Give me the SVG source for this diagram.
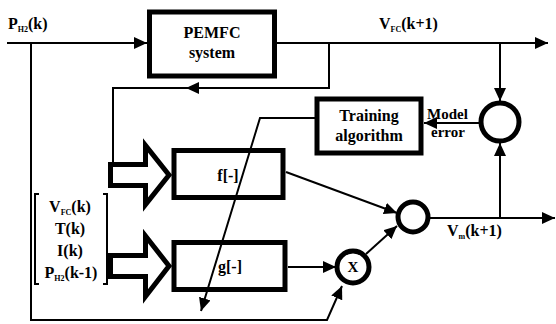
<svg xmlns="http://www.w3.org/2000/svg" width="556" height="324" viewBox="0 0 556 324" font-family="'Liberation Serif', 'Times New Roman', serif" font-weight="bold" font-size="16">
  <style>
    text { fill: #000; }
    .sub { font-size: 8px; }
    .box { fill: #fff; stroke: #000; stroke-width: 5; }
    .ln { fill: none; stroke: #000; stroke-width: 2; }
    .ring { fill: #fff; stroke: #000; stroke-width: 5; }
    .fat { fill: #fff; stroke: #000; stroke-width: 5; stroke-linejoin: miter; }
  </style>
  <defs>
    <marker id="ah" markerUnits="userSpaceOnUse" markerWidth="14" markerHeight="12" refX="13" refY="6" orient="auto">
      <path d="M0,0 L13,6 L0,12 Z" fill="#000"/>
    </marker>
  </defs>
  <rect width="556" height="324" fill="#fff"/>

  <g id="pemfc">
    <rect class="box" x="149.5" y="12" width="125" height="64"/>
    <text x="212" y="38" text-anchor="middle">PEMFC</text>
    <text x="212" y="58" text-anchor="middle">system</text>
  </g>

  <g id="training">
    <rect class="box" x="317" y="99" width="104" height="54" stroke-width="4"/>
    <text x="369" y="121" text-anchor="middle">Training</text>
    <text x="369" y="141" text-anchor="middle">algorithm</text>
  </g>

  <g id="f-net">
    <rect class="box" x="174" y="150.5" width="109" height="47"/>
    <text x="228" y="181" text-anchor="middle">f[-]</text>
  </g>

  <g id="g-net">
    <rect class="box" x="174" y="242.5" width="111" height="47"/>
    <text x="230" y="272" text-anchor="middle">g[-]</text>
  </g>

  <g id="error-node">
    <circle class="ring" cx="500" cy="122" r="19"/>
  </g>

  <g id="sum-node">
    <circle class="ring" cx="413" cy="217" r="15"/>
  </g>

  <g id="mult-node">
    <circle class="ring" cx="353" cy="267" r="16" stroke-width="4"/>
    <text x="353" y="272" text-anchor="middle" font-size="15">X</text>
  </g>

  <g id="regressor">
    <path class="ln" d="M39,194 H35 V284 H39"/>
    <path class="ln" d="M103,194 H107 V284 H103"/>
    <text x="70" y="212" text-anchor="middle">V<tspan class="sub" dy="3">FC</tspan><tspan dy="-3">(k)</tspan></text>
    <text x="70" y="234" text-anchor="middle">T(k)</text>
    <text x="70" y="256" text-anchor="middle">I(k)</text>
    <text x="71" y="278" text-anchor="middle">P<tspan class="sub" dy="3">H2</tspan><tspan dy="-3">(k-1)</tspan></text>
  </g>

  <g id="labels">
    <text x="8" y="29">P<tspan class="sub" dy="3">H2</tspan><tspan dy="-3">(k)</tspan></text>
    <text x="379" y="29">V<tspan class="sub" dy="3">FC</tspan><tspan dy="-3">(k+1)</tspan></text>
    <text x="427" y="119" font-size="15">Model</text>
    <text x="431" y="137" font-size="15">error</text>
    <text x="447" y="236">V<tspan class="sub" dy="3">m</tspan><tspan dy="-3">(k+1)</tspan></text>
  </g>

  <g id="connectors">
    <!-- H2 pressure input -->
    <line class="ln" x1="7" y1="43" x2="147" y2="43" marker-end="url(#ah)"/>
    <polyline class="ln" points="31,43 31,320 327,320 342,286" marker-end="url(#ah)"/>
    <!-- stack voltage output -->
    <line class="ln" x1="277" y1="43" x2="548" y2="43" marker-end="url(#ah)"/>
    <!-- measured voltage fed back to regressor -->
    <polyline class="ln" points="329,43 329,88 113,88 113,164"/>
    <line class="ln" x1="329" y1="88" x2="186" y2="88" marker-end="url(#ah)"/>
    <!-- to error node -->
    <line class="ln" x1="500" y1="43" x2="500" y2="101" marker-end="url(#ah)"/>
    <line class="ln" x1="500" y1="218" x2="500" y2="143" marker-end="url(#ah)"/>
    <!-- model error to training -->
    <line class="ln" x1="479" y1="123" x2="424" y2="123" marker-end="url(#ah)"/>
    <!-- training adjusts the networks -->
    <polyline class="ln" points="316,118 260,118 201,311" marker-end="url(#ah)"/>
    <!-- network outputs -->
    <line class="ln" x1="286" y1="172" x2="397" y2="213" marker-end="url(#ah)"/>
    <line class="ln" x1="288" y1="267" x2="336" y2="267" marker-end="url(#ah)"/>
    <line class="ln" x1="366" y1="254" x2="397" y2="226" marker-end="url(#ah)"/>
    <!-- model output -->
    <line class="ln" x1="430" y1="218" x2="555" y2="218" marker-end="url(#ah)"/>
    <!-- wide input arrows -->
    <polygon class="fat" points="110.5,164.5 145.5,164.5 145.5,145.5 169,175 145.5,204.5 145.5,185.5 110.5,185.5"/>
    <polygon class="fat" points="110.5,255.5 145.5,255.5 145.5,236 169,266 145.5,296.5 145.5,276.5 110.5,276.5"/>
  </g>
</svg>
